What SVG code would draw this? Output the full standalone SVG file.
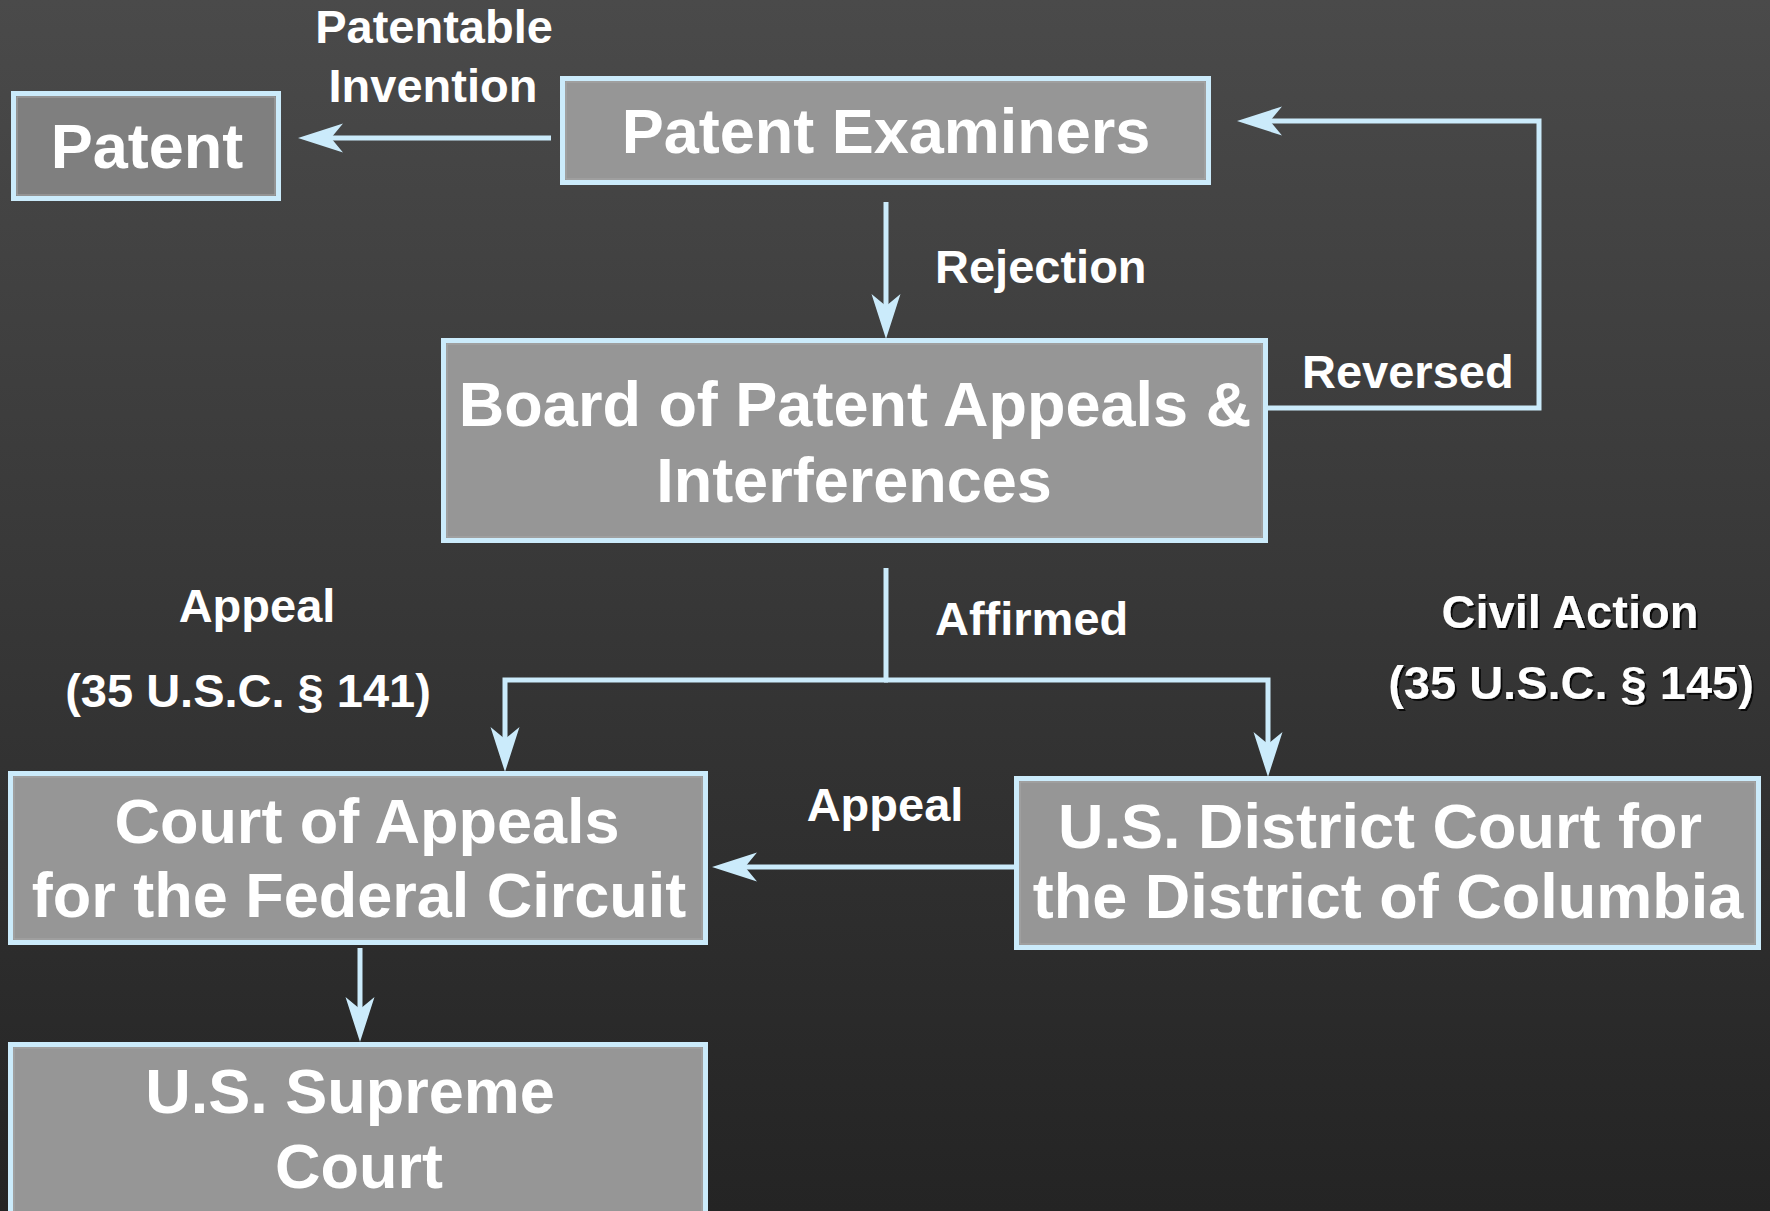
<svg xmlns="http://www.w3.org/2000/svg" width="1770" height="1211" viewBox="0 0 1770 1211">
<defs>
<linearGradient id="bg" x1="0" y1="0" x2="0" y2="1">
<stop offset="0" stop-color="#4a4a4a"/>
<stop offset="1" stop-color="#242424"/>
</linearGradient>
<marker id="arr" markerUnits="userSpaceOnUse" markerWidth="48" markerHeight="32" viewBox="-46 -16 48 32" refX="-12" refY="0" orient="auto">
<path d="M0,0 L-45,-14.5 L-33,0 L-45,14.5 Z" fill="#cbebfb"/>
</marker>
<filter id="sh" x="-5%" y="-20%" width="110%" height="140%">
<feDropShadow dx="2" dy="2" stdDeviation="0.5" flood-color="#000" flood-opacity="0.8"/>
</filter>
<style>
.box{fill:#969696;stroke:#cbebfb;stroke-width:5}
.dark{fill:#7f7f7f}
.inner{fill:none;stroke:#a8a8a8;stroke-width:1}
.big{font-family:"Liberation Sans",Arial,sans-serif;font-weight:bold;font-size:63px;fill:#fff;text-anchor:middle}
.lbl{font-family:"Liberation Sans",Arial,sans-serif;font-weight:bold;font-size:47px;fill:#fff}
.mid{text-anchor:middle}
.con{fill:none;stroke:#cbebfb;stroke-width:5;stroke-linejoin:miter}
</style>
</defs>
<rect x="0" y="0" width="1770" height="1211" fill="url(#bg)"/>

<g id="connectors">
<path class="con" d="M551,138 H310" marker-end="url(#arr)"/>
<path class="con" d="M886,202 V327" marker-end="url(#arr)"/>
<path class="con" d="M1267,408 H1539 V121 H1249" marker-end="url(#arr)"/>
<path class="con" d="M886,568 V680"/>
<path class="con" d="M888,680 H505 V760" marker-end="url(#arr)"/>
<path class="con" d="M884,680 H1268 V765" marker-end="url(#arr)"/>
<path class="con" d="M1015,867 H724" marker-end="url(#arr)"/>
<path class="con" d="M360,948 V1030" marker-end="url(#arr)"/>
</g>

<g id="labels">
<text class="lbl mid" x="434" y="43">Patentable</text>
<text class="lbl mid" x="433" y="102">Invention</text>
<text class="lbl" x="935" y="283">Rejection</text>
<text class="lbl" x="1302" y="388">Reversed</text>
<text class="lbl mid" x="257" y="622">Appeal</text>
<text class="lbl mid" x="248" y="707">(35 U.S.C. § 141)</text>
<text class="lbl" x="935" y="635">Affirmed</text>
<text class="lbl mid" x="1570" y="628" filter="url(#sh)">Civil Action</text>
<text class="lbl mid" x="1571" y="699" filter="url(#sh)">(35 U.S.C. § 145)</text>
<text class="lbl mid" x="885" y="821">Appeal</text>
</g>

<g id="patent">
<rect class="box dark" x="13.5" y="93.5" width="265" height="105"/>
<rect class="inner" x="17" y="97" width="258" height="98"/>
<text class="big" x="147" y="168">Patent</text>
</g>

<g id="patent-examiners">
<rect class="box" x="562.5" y="78.5" width="646" height="104"/>
<rect class="inner" x="566" y="82" width="639" height="97"/>
<text class="big" x="886" y="153">Patent Examiners</text>
</g>

<g id="board">
<rect class="box" x="443.5" y="340.5" width="822" height="200"/>
<rect class="inner" x="447" y="344" width="815" height="193"/>
<text class="big" x="855" y="426">Board of Patent Appeals &amp;</text>
<text class="big" x="854" y="502">Interferences</text>
</g>

<g id="court-of-appeals">
<rect class="box" x="10.5" y="773.5" width="695" height="169"/>
<rect class="inner" x="14" y="777" width="688" height="162"/>
<text class="big" x="367" y="843">Court of Appeals</text>
<text class="big" x="359" y="917">for the Federal Circuit</text>
</g>

<g id="district-court">
<rect class="box" x="1016.5" y="778.5" width="742" height="169"/>
<rect class="inner" x="1020" y="782" width="735" height="162"/>
<text class="big" x="1380" y="848">U.S. District Court for</text>
<text class="big" x="1388" y="918">the District of Columbia</text>
</g>

<g id="supreme-court">
<rect class="box" x="10.5" y="1044.5" width="695" height="200"/>
<rect class="inner" x="14" y="1048" width="688" height="193"/>
<text class="big" x="350" y="1113">U.S. Supreme</text>
<text class="big" x="359" y="1188">Court</text>
</g>
</svg>
